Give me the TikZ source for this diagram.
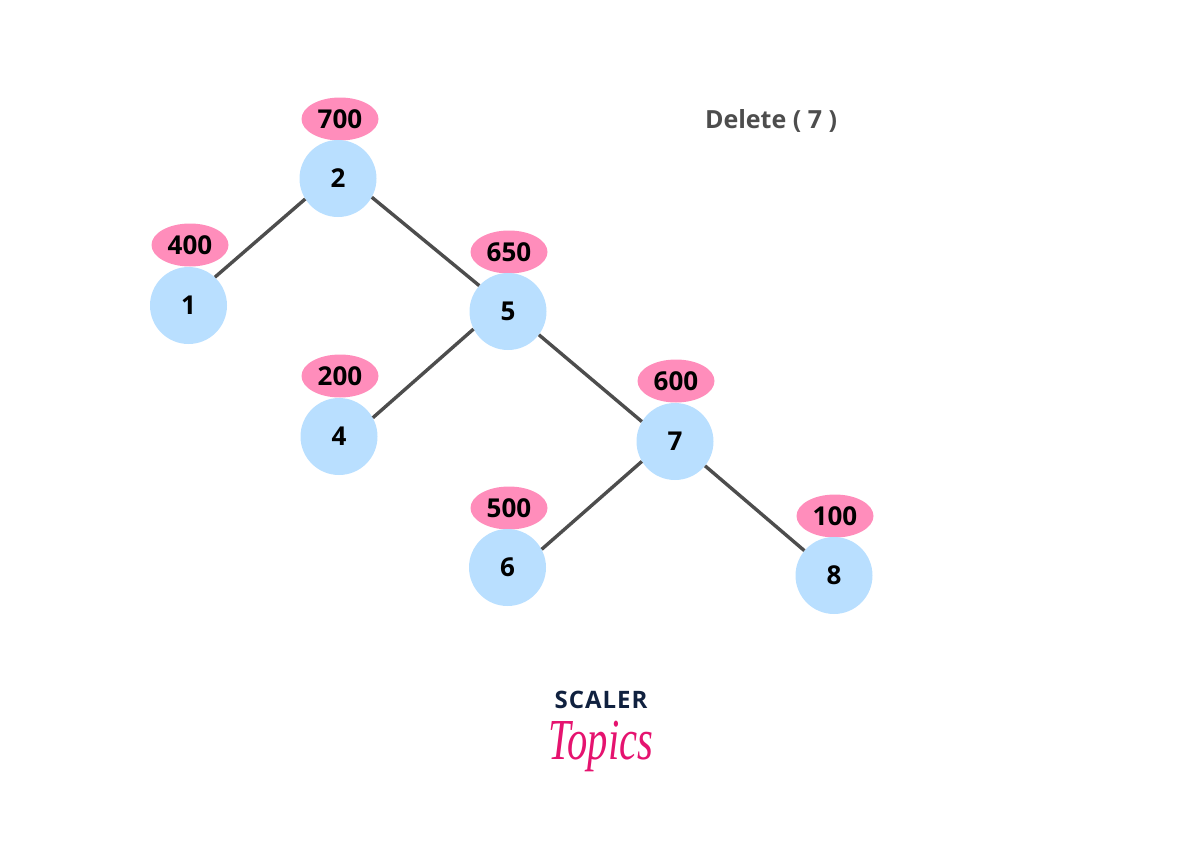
\documentclass[tikz,border=0pt]{standalone}
\usepackage{fontspec}
\setmainfont{Open Sans}
\newfontfamily\logoscript{Liberation Serif}
\usetikzlibrary{shapes.geometric}
\definecolor{nodeblue}{HTML}{B9DFFF}
\definecolor{keypink}{HTML}{FF8DBB}
\definecolor{edgegrey}{HTML}{4D4D4D}
\definecolor{logonavy}{HTML}{10213F}
\definecolor{logopink}{HTML}{E5136F}
\tikzset{
  x=1pt,y=-1pt,
  treenode/.style={circle,fill=nodeblue,minimum size=77pt,inner sep=0pt,font=\fontsize{26}{26}\selectfont\bfseries,text=black,yshift=-1pt},
  keynode/.style={ellipse,fill=keypink,minimum width=77pt,minimum height=43pt,inner sep=0pt,font=\fontsize{26}{26}\selectfont\bfseries,text=black},
  edge/.style={draw=edgegrey,line width=3.4pt}
}
\begin{document}
\begin{tikzpicture}
\useasboundingbox (0,0) rectangle (1200,841);
\node[keynode] (k2) at (340,119) {\raisebox{-1.5pt}{700}};
\node[keynode] (k1) at (190,245) {\raisebox{-1.5pt}{400}};
\node[keynode] (k5) at (509,252) {\raisebox{-1.5pt}{650}};
\node[keynode] (k4) at (340,376) {\raisebox{-1.5pt}{200}};
\node[keynode] (k7) at (676,381) {\raisebox{-1.5pt}{600}};
\node[keynode] (k6) at (509,508) {\raisebox{-1.5pt}{500}};
\node[keynode] (k8) at (835,516) {\raisebox{-1.5pt}{100}};
\node[treenode] (n2) at (338,177.5) {2};
\node[treenode] (n1) at (188.5,304.5) {1};
\node[treenode] (n5) at (508,310.5) {5};
\node[treenode] (n4) at (339,435.5) {4};
\node[treenode] (n7) at (675,440.5) {7};
\node[treenode] (n6) at (507.5,566.5) {6};
\node[treenode] (n8) at (834,574.5) {8};
\draw[edge] (n2.212) -- (n1.47);
\draw[edge] (n2.331) -- (n5.138);
\draw[edge] (n5.207) -- (n4.29);
\draw[edge] (n5.323) -- (n7.149);
\draw[edge] (n7.211) -- (n6.28);
\draw[edge] (n7.321) -- (n8.140);
\node[text=edgegrey,font=\fontsize{25}{25}\selectfont\bfseries] (title) at (771,121) {Delete ( 7 )};
\node[text=logonavy,font=\fontsize{24}{24}\selectfont\bfseries,inner sep=0pt] (scaler) at (601,700) {S\hspace{1pt}C\hspace{1pt}A\hspace{1pt}L\hspace{1pt}E\hspace{1pt}R};
\node[text=logopink,font=\logoscript\fontsize{58}{58}\selectfont\itshape,inner sep=0pt] (topics) at (601,746) {\scalebox{0.7}[1]{Topics}};
\end{tikzpicture}
\end{document}
